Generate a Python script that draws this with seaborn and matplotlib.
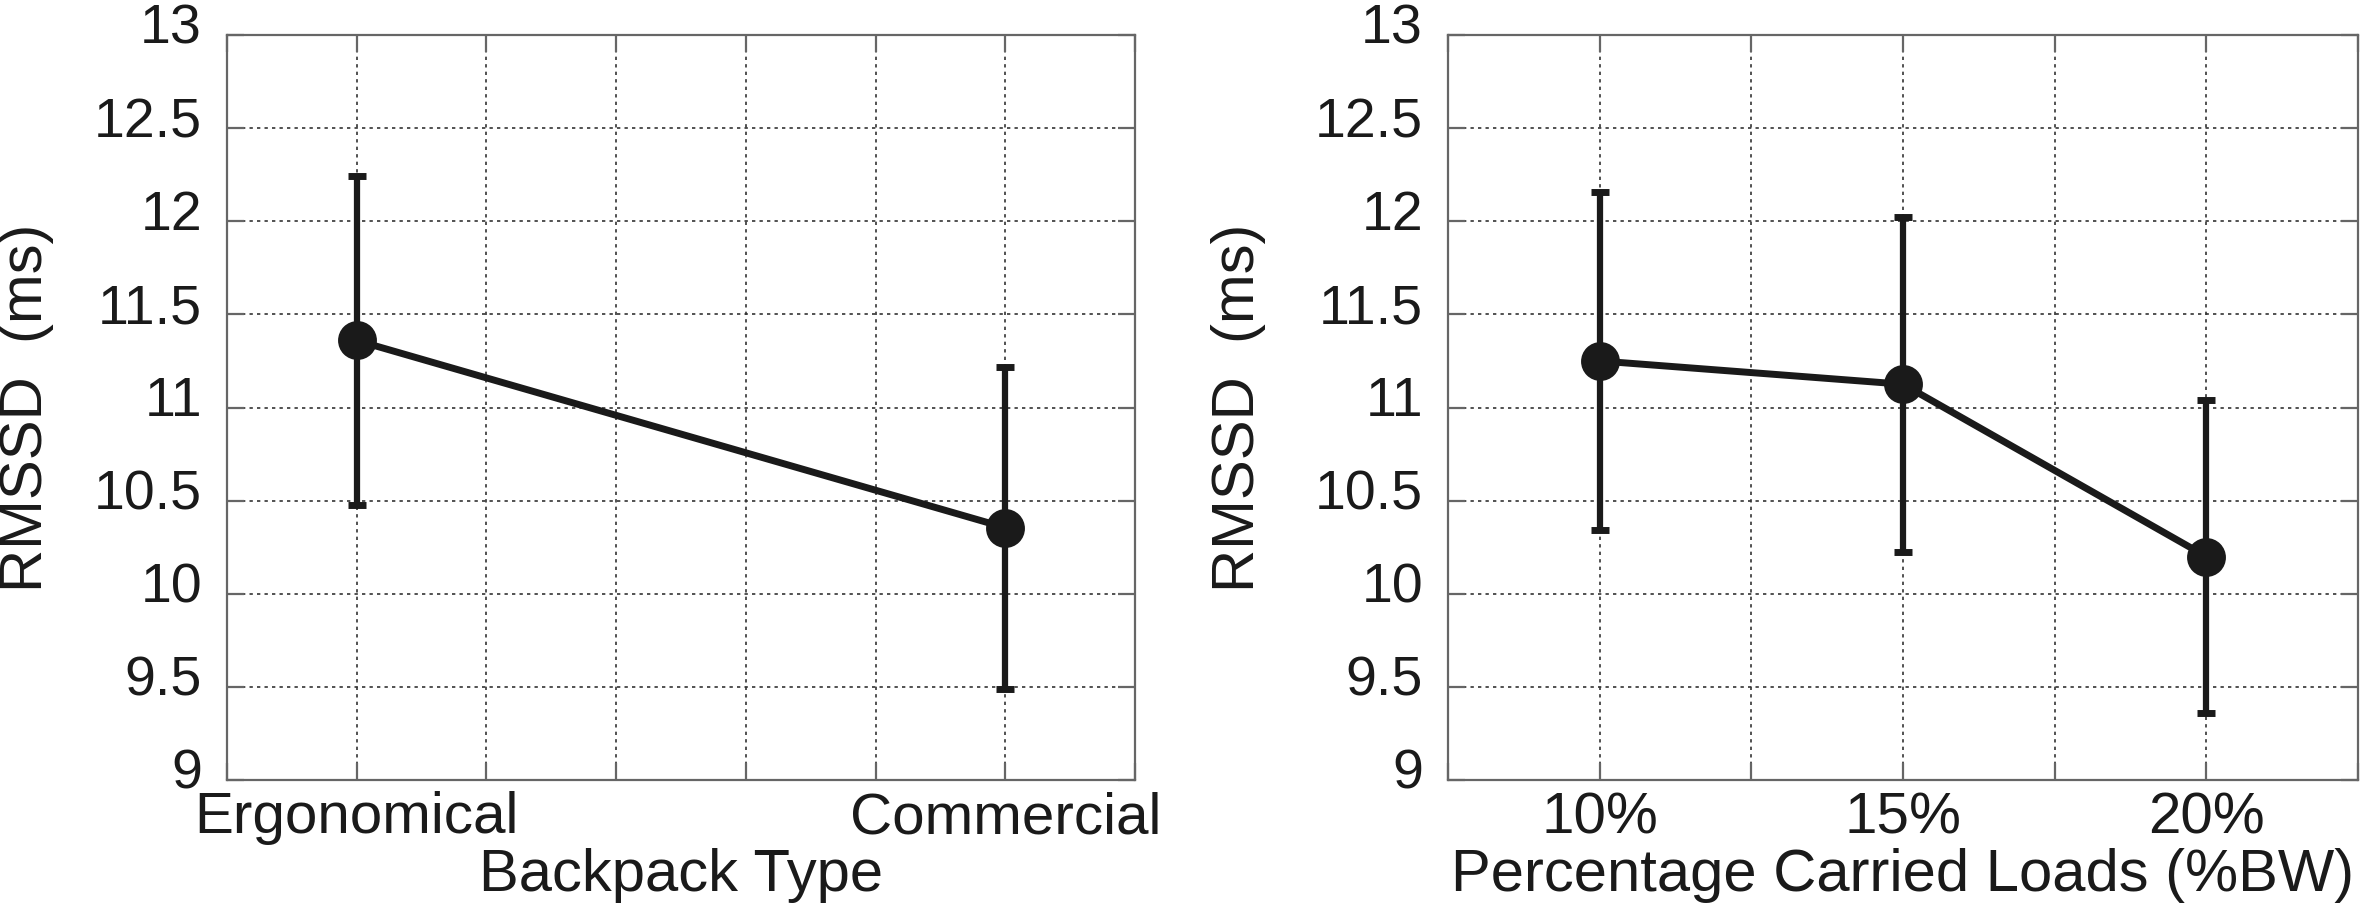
import numpy as np
import matplotlib
matplotlib.use("Agg")
import matplotlib.pyplot as plt
import matplotlib.transforms as mtransforms
import seaborn as sns

# Left panel: RMSSD by backpack type (mean and error half-width)
backpack_types = ["Ergonomical", "Commercial"]
backpack_mean = [11.36, 10.355]
backpack_err = [0.885, 0.865]

# Right panel: RMSSD by carried load
load_labels = ["10%", "15%", "20%"]
load_mean = [11.25, 11.125, 10.20]
load_err = [0.905, 0.90, 0.84]

y_ticks = [9, 9.5, 10, 10.5, 11, 11.5, 12, 12.5, 13]
y_tick_labels = ["9", "9.5", "10", "10.5", "11", "11.5", "12", "12.5", "13"]

sns.set_theme(style="white")
plt.rcParams["font.family"] = ["Liberation Sans", "DejaVu Sans"]

ink = "#1a1a1a"
frame = "#666666"

fig = plt.figure(figsize=(23.62, 9.14), dpi=100)
ax_left = fig.add_axes([0.0961, 0.1466, 0.3844, 0.8151])
ax_right = fig.add_axes([0.6130, 0.1466, 0.3853, 0.8151])


def draw_panel(ax, labels, means, errs, step, xlabel, ylabel_x):
    pos = np.arange(len(labels))
    sns.lineplot(x=pos, y=means, ax=ax, color=ink, linewidth=5,
                 marker="o", markersize=28, markeredgewidth=0, zorder=3)
    ax.errorbar(pos, means, yerr=errs, fmt="none", ecolor=ink,
                elinewidth=4.5, capsize=6.5, capthick=5, zorder=2)

    ax.set_xlim(-step, pos[-1] + step)
    ax.set_ylim(9, 13)
    xt = np.arange(-step, pos[-1] + step + 1e-9, step)
    ax.set_xticks(xt)
    names = []
    for v in xt:
        hit = [lab for p, lab in zip(pos, labels) if abs(p - v) < 1e-6]
        names.append(hit[0] if hit else "")
    ax.set_xticklabels(names, fontsize=42)
    ax.set_yticks(y_ticks)
    ax.set_yticklabels(y_tick_labels, fontsize=40)

    ax.grid(True, linestyle=(0, (2, 2.5)), linewidth=1.2, color="#333333")
    for s in ax.spines.values():
        s.set_color(frame)
        s.set_linewidth(1.6)
        s.set_visible(True)
    ax.tick_params(direction="in", length=12, width=1.6, color=frame,
                   labelcolor=ink, top=True, right=True,
                   bottom=True, left=True)
    ax.tick_params(axis="y", pad=18)
    ax.tick_params(axis="x", pad=8)

    # nudge y tick labels upward a little
    lift = mtransforms.ScaledTranslation(0, 8 / 72, fig.dpi_scale_trans)
    for t in ax.get_yticklabels():
        t.set_transform(t.get_transform() + lift)

    ax.set_xlabel(xlabel, fontsize=43, color=ink, labelpad=2)
    ax.set_ylabel("RMSSD  (ms)", fontsize=43, color=ink)
    ax.yaxis.set_label_coords(ylabel_x, 0.5)


draw_panel(ax_left, backpack_types, backpack_mean, backpack_err, 0.2,
           "Backpack Type", -0.19)
draw_panel(ax_right, load_labels, load_mean, load_err, 0.5,
           "Percentage Carried Loads (%BW)", -0.20)

fig.savefig("out.png", dpi=100, facecolor="white")
